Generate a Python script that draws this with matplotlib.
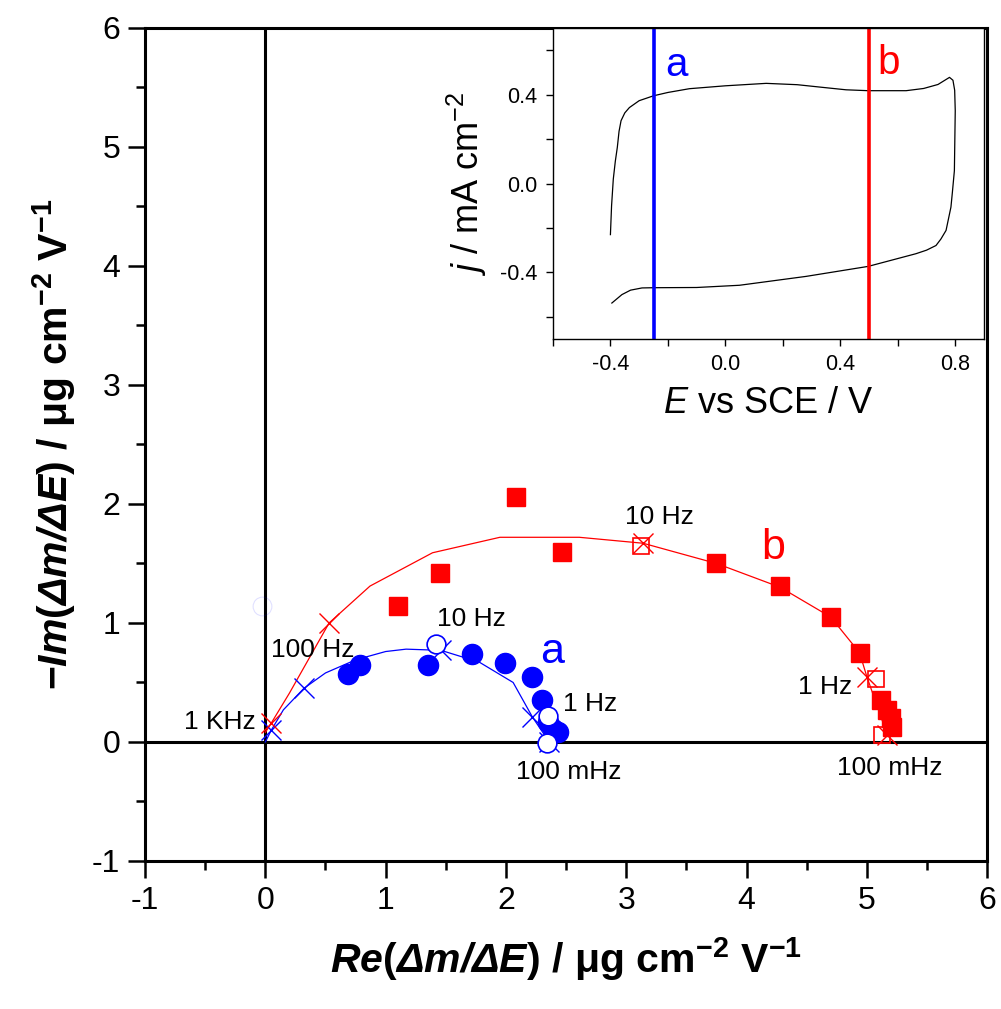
import matplotlib
matplotlib.use("Agg")
import matplotlib.pyplot as plt
from matplotlib import font_manager
from matplotlib.ticker import MultipleLocator, FormatStrFormatter

# ---- data ----
# a : filled circles (experimental), open circles (selected freqs)
a_re = [0.69, 0.79, 1.35, 1.72, 1.99, 2.22, 2.30, 2.35, 2.39, 2.43]
a_im = [0.57, 0.65, 0.65, 0.74, 0.66, 0.55, 0.35, 0.17, 0.11, 0.08]
a_open_re = [1.42, 2.35, 2.34]
a_open_im = [0.82, 0.22, -0.01]
# a : fitted curve and marked frequencies (1 kHz, 100 Hz, 10 Hz, 1 Hz, 100 mHz)
a_fit_re = [0.0, 0.05, 0.15, 0.32, 0.50, 0.75, 1.00, 1.17, 1.46, 1.78, 2.06, 2.22, 2.36]
a_fit_im = [0.0, 0.10, 0.27, 0.45, 0.58, 0.69, 0.76, 0.78, 0.77, 0.67, 0.50, 0.21, 0.0]
a_x_re = [0.05, 0.32, 1.46, 2.22, 2.36]
a_x_im = [0.10, 0.45, 0.77, 0.21, 0.0]

# b : filled squares, open squares
b_re = [1.10, 1.45, 2.08, 2.47, 3.75, 4.28, 4.70, 4.94, 5.12, 5.17, 5.20, 5.21]
b_im = [1.14, 1.42, 2.06, 1.60, 1.50, 1.31, 1.05, 0.75, 0.35, 0.27, 0.20, 0.13]
b_open_re = [3.12, 5.08, 5.13]
b_open_im = [1.65, 0.53, 0.06]
b_fit_re = [0.0, 0.05, 0.20, 0.53, 0.87, 1.39, 1.95, 2.61, 3.14, 3.75, 4.28, 4.70, 4.94, 5.00, 5.17]
b_fit_im = [0.08, 0.16, 0.41, 1.00, 1.31, 1.59, 1.72, 1.72, 1.67, 1.50, 1.30, 1.05, 0.75, 0.55, 0.06]
b_x_re = [0.05, 0.53, 3.14, 5.00, 5.17]
b_x_im = [0.16, 1.00, 1.67, 0.55, 0.06]

# inset cyclic voltammogram
cv_E = [-0.400, -0.396, -0.390, -0.383, -0.376, -0.370, -0.363, -0.350, -0.334, -0.300,
        -0.250, -0.200, -0.125, -0.067, 0.000, 0.142, 0.250, 0.338, 0.420, 0.497,
        0.629, 0.690, 0.740, 0.780, 0.792, 0.798, 0.800, 0.797, 0.790, 0.785,
        0.768, 0.750, 0.733, 0.700, 0.663, 0.497, 0.281, 0.049, -0.100, -0.250,
        -0.290, -0.330, -0.360, -0.395]
cv_j = [-0.23, -0.10, 0.02, 0.10, 0.163, 0.235, 0.283, 0.318, 0.342, 0.373,
        0.395, 0.410, 0.427, 0.433, 0.440, 0.451, 0.445, 0.433, 0.422, 0.418,
        0.418, 0.428, 0.446, 0.478, 0.465, 0.420, 0.328, 0.058, -0.040, -0.106,
        -0.211, -0.250, -0.279, -0.300, -0.316, -0.373, -0.418, -0.458, -0.468, -0.469,
        -0.470, -0.480, -0.500, -0.538]
E_a = -0.25
E_b = 0.50

# ---- fonts ----
names = {f.name for f in font_manager.fontManager.ttflist}
narrow = 'Liberation Sans Narrow' if 'Liberation Sans Narrow' in names else 'Liberation Sans'
lab_size = 35 if narrow == 'Liberation Sans Narrow' else 29.5

plt.rcParams['font.family'] = ['Liberation Sans', 'DejaVu Sans']
plt.rcParams['axes.unicode_minus'] = False
plt.rcParams['mathtext.fontset'] = 'custom'
plt.rcParams['mathtext.rm'] = 'Liberation Sans'
plt.rcParams['mathtext.it'] = 'Liberation Sans:italic'
plt.rcParams['mathtext.bf'] = narrow + ':bold'
plt.rcParams['mathtext.bfit'] = narrow + ':italic:bold'

fig = plt.figure(figsize=(10.01, 10.09), dpi=100)
ax = fig.add_axes([0.1449, 0.1467, 0.8412, 0.8256])

ax.axvline(0, color='black', lw=2.2, zorder=1)
ax.axhline(0, color='black', lw=2.2, zorder=1)

ax.plot(a_fit_re, a_fit_im, color='blue', lw=0.9, zorder=2)
ax.plot(a_x_re, a_x_im, linestyle='None', marker='x', color='blue', ms=15, mew=1.0, zorder=3)
ax.plot(a_re, a_im, linestyle='None', marker='o', color='blue', ms=14.5, zorder=3)
ax.plot(a_open_re, a_open_im, linestyle='None', marker='o', mfc='white', mec='blue',
        ms=13.5, mew=1.2, zorder=4)
ax.plot([-0.03], [1.14], linestyle='None', marker='o', mfc='none', mec='blue',
        ms=13.5, mew=0.8, alpha=0.12, zorder=2)

ax.plot(b_fit_re, b_fit_im, color='red', lw=0.9, zorder=2)
ax.plot(b_x_re, b_x_im, linestyle='None', marker='x', color='red', ms=15, mew=1.0, zorder=3)
ax.plot(b_re, b_im, linestyle='None', marker='s', color='red', ms=12.5, zorder=3)
ax.plot(b_open_re, b_open_im, linestyle='None', marker='s', mfc='none', mec='red',
        ms=12, mew=1.2, zorder=4)

lbl = dict(fontsize=19, ha='center', va='center', color='black')
ax.text(3.28, 1.89, '10 Hz', **lbl)
ax.text(4.65, 0.465, '1 Hz', **lbl)
ax.text(5.19, -0.22, '100 mHz', **lbl)
ax.text(1.71, 1.03, '10 Hz', **lbl)
ax.text(0.39, 0.77, '100 Hz', **lbl)
ax.text(-0.38, 0.17, '1 KHz', **lbl)
ax.text(2.70, 0.32, '1 Hz', **lbl)
ax.text(2.52, -0.25, '100 mHz', **lbl)
ax.text(2.38, 0.76, 'a', fontsize=31, ha='center', va='center', color='blue')
ax.text(4.22, 1.63, 'b', fontsize=31, ha='center', va='center', color='red')

ax.set_xlim(-1, 6)
ax.set_ylim(-1, 6)
ax.xaxis.set_major_locator(MultipleLocator(1))
ax.xaxis.set_minor_locator(MultipleLocator(0.5))
ax.yaxis.set_major_locator(MultipleLocator(1))
ax.yaxis.set_minor_locator(MultipleLocator(0.5))
ax.tick_params(which='major', direction='out', length=12, width=1.8, labelsize=23, pad=6)
ax.tick_params(which='minor', direction='out', length=6.5, width=1.8)
for s in ax.spines.values():
    s.set_linewidth(2.2)

ax.set_xlabel(r'$\mathbfit{Re}\mathbf{(}\mathbfit{\Delta m/\Delta E}\mathbf{)\ /\ \mu g\ cm^{-2}\ V^{-1}}$',
              fontsize=lab_size, labelpad=14)
ax.set_ylabel(r'$\mathbf{-}\mathbfit{Im}\mathbf{(}\mathbfit{\Delta m/\Delta E}\mathbf{)\ /\ \mu g\ cm^{-2}\ V^{-1}}$',
              fontsize=lab_size, labelpad=10)

# ---- inset ----
ins = fig.add_axes([0.5524, 0.664, 0.4306, 0.3082])
ins.plot(cv_E, cv_j, color='black', lw=0.9)
ins.axvline(E_a, color='blue', lw=2.6)
ins.axvline(E_b, color='red', lw=2.6)
ins.text(-0.171, 0.535, 'a', fontsize=29, color='blue', ha='center', va='center')
ins.text(0.568, 0.543, 'b', fontsize=29, color='red', ha='center', va='center')
ins.set_xlim(-0.6, 0.9)
ins.set_ylim(-0.7, 0.7)
ins.xaxis.set_major_locator(MultipleLocator(0.4))
ins.xaxis.set_minor_locator(MultipleLocator(0.2))
ins.yaxis.set_major_locator(MultipleLocator(0.4))
ins.yaxis.set_minor_locator(MultipleLocator(0.2))
ins.xaxis.set_major_formatter(FormatStrFormatter('%.1f'))
ins.yaxis.set_major_formatter(FormatStrFormatter('%.1f'))
ins.tick_params(which='major', direction='out', length=5, width=1, labelsize=15.5, pad=6)
ins.tick_params(which='minor', direction='out', length=5, width=1)
for s in ins.spines.values():
    s.set_linewidth(1.0)
ins.set_xlabel(r'$\mathit{E}$ vs SCE / V', fontsize=26, labelpad=8)
ins.set_ylabel(r'$\mathit{j}$ / mA cm$^{-2}$', fontsize=26, labelpad=8)

fig.savefig('out.png', dpi=100)
